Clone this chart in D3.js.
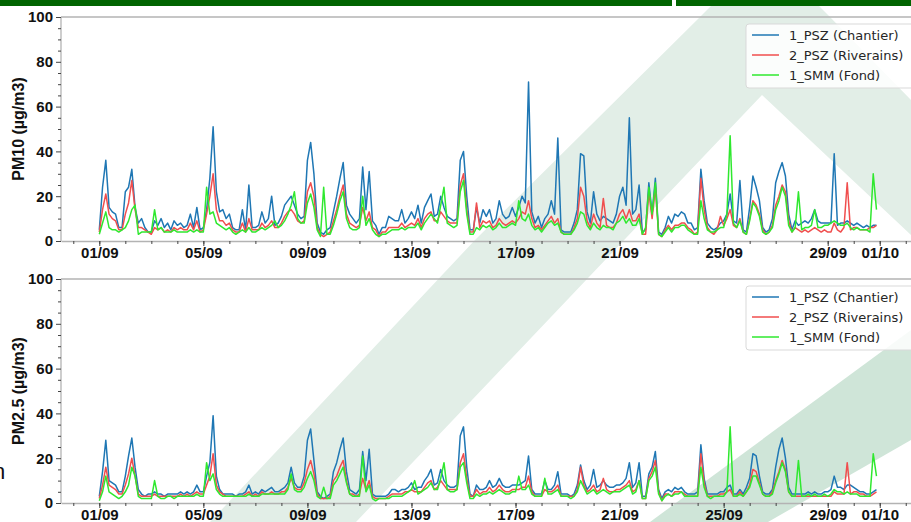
<!DOCTYPE html>
<html><head><meta charset="utf-8">
<script src="https://cdn.jsdelivr.net/npm/d3@7"></script>
<style>body{margin:0;background:#fff}svg{display:block}</style>
</head><body>
<script>
// ---- DATA (3-hourly values, 01/09 00:00 -> 30/09 21:00) ----
const stepHours = 3;
const seriesNames = ["1_PSZ (Chantier)", "2_PSZ (Riverains)", "1_SMM (Fond)"];
const seriesColors = ["#1f77b4", "#f04e4e", "#2fe82f"];
const xTickLabels = ["01/09","05/09","09/09","13/09","17/09","21/09","25/09","29/09","01/10"];
const yTicks = [0,20,40,60,80,100];

const pm10Chantier = [
5,24,36,15,13,12,6,6, 22,24,32,15,8,10,6,4, 4,9,7,10,6,8,5,9, 7,8,6,7,12,6,15,5,
6,14,28,51,22,13,14,10, 12,6,5,5,14,5,25,6, 6,7,13,8,10,20,7,8, 11,16,18,20,16,12,10,11,
36,44,30,8,4,3,5,6, 13,20,28,35,16,12,10,8, 10,33,14,31,9,7,3,6, 6,11,10,9,9,14,8,10,
13,10,16,8,15,18,21,11, 12,20,15,11,10,9,10,36, 40,20,5,5,15,8,14,11, 14,8,10,18,12,10,11,15,
11,15,20,17,71,13,8,11, 6,10,12,18,12,46,5,4, 4,4,8,14,39,38,13,8, 22,12,9,11,10,9,8,12,
20,24,16,55,12,14,25,4, 5,26,12,28,4,3,6,11, 8,12,11,13,12,8,8,5, 6,32,18,8,6,5,6,8,
9,12,21,9,8,27,5,4, 15,29,24,18,6,4,5,10, 26,31,35,29,12,5,9,7, 8,9,8,10,14,9,8,8,
8,8,39,7,8,8,9,8, 7,8,7,6,7,6,7,7];
const pm10Riverains = [
4,14,21,12,10,9,5,5, 12,17,27,14,6,6,5,4, 3,6,5,6,4,5,4,6, 5,6,5,5,8,5,9,4,
5,12,20,30,14,9,9,7, 8,5,4,4,8,4,10,5, 5,5,8,6,7,9,6,6, 8,11,13,14,12,9,8,9,
22,26,20,6,3,2,3,4, 9,14,20,25,12,8,7,6, 7,15,9,13,6,5,2,4, 4,6,6,6,6,8,6,7,
8,7,10,6,10,12,13,9, 9,13,11,9,8,8,8,25, 30,14,4,4,17,6,9,8, 9,6,7,10,8,7,8,9,
8,10,13,12,18,10,6,7, 5,7,9,11,8,10,4,3, 3,3,6,10,24,20,9,6, 12,8,6,19,7,6,6,8,
12,14,10,14,9,9,12,3, 3,22,10,24,3,2,5,7, 5,7,7,8,8,6,5,3, 4,28,14,6,4,3,5,11,
7,10,14,7,6,10,4,3, 10,18,16,12,5,3,4,7, 16,20,25,22,9,4,6,5, 4,5,4,5,6,5,4,5,
4,4,8,5,4,6,26,5, 6,6,5,5,5,6,6,7];
const pm10Fond = [
3,8,13,6,5,5,4,5, 6,9,14,16,3,4,4,4, 4,14,5,6,4,4,4,5, 4,4,4,4,5,4,5,4,
4,24,12,13,8,7,6,5, 6,4,3,4,5,4,6,4, 4,5,6,5,6,7,9,6, 7,9,12,16,22,10,8,8,
17,21,15,5,2,24,3,3, 7,12,18,22,10,6,5,5, 6,20,7,10,5,3,2,3, 3,4,5,5,5,6,5,6,
6,6,8,5,8,10,12,10, 8,16,24,8,7,6,7,22, 27,12,3,3,6,5,7,6, 7,5,6,8,6,6,7,8,
7,18,10,9,12,7,5,6, 4,6,8,9,7,8,4,3, 3,3,5,8,13,12,7,5, 8,6,5,7,6,6,5,8,
9,11,8,10,7,7,10,3, 6,24,12,26,3,2,4,6, 4,6,6,7,7,5,4,3, 3,18,10,5,4,4,5,6,
6,12,47,8,6,9,4,3, 9,17,15,11,4,3,4,6, 14,18,24,20,7,4,6,22, 5,6,6,7,14,6,6,7,
7,8,9,8,7,7,8,6, 5,6,5,5,5,4,30,14];

const pm25Chantier = [
3,14,28,10,9,8,5,5, 12,21,29,16,6,4,3,4, 4,5,4,4,3,4,4,4, 4,5,4,5,4,5,8,5,
5,12,18,39,12,6,4,4, 4,4,3,4,4,5,8,4, 5,4,6,5,6,7,5,5, 6,7,9,16,9,7,7,12,
28,33,19,5,3,2,3,4, 14,18,24,29,14,6,5,4, 6,23,10,24,4,3,3,3, 3,4,6,6,5,6,6,7,
9,6,7,7,10,12,15,8, 9,15,10,8,7,7,8,30, 34,16,4,3,8,6,6,7, 10,7,8,11,8,7,7,8,
8,8,9,10,21,6,4,4, 4,10,6,6,8,14,4,4, 4,3,4,8,17,10,6,8, 15,7,8,10,8,7,7,8,
8,9,11,18,7,9,18,3, 3,13,16,23,6,2,5,6, 5,7,6,7,5,4,4,4, 5,26,11,4,4,4,4,5,
5,7,8,4,4,6,4,7, 11,22,21,12,5,4,4,6, 16,24,29,20,7,4,4,4, 4,4,5,4,5,4,4,5,
5,6,12,7,7,6,8,8, 7,6,5,5,4,4,5,6];
const pm25Riverains = [
2,8,16,8,7,6,4,4, 8,13,20,12,4,3,3,3, 3,4,3,3,3,3,3,3, 3,4,3,4,3,4,5,4,
4,8,12,22,8,5,4,3, 3,3,3,3,3,4,5,3, 4,3,5,4,4,5,4,4, 5,5,7,11,7,6,6,9,
15,19,13,4,2,2,2,3, 10,12,16,19,10,4,4,3, 4,11,6,10,3,2,2,2, 2,3,4,4,4,4,5,5,
6,5,5,5,7,9,10,6, 7,10,8,6,6,6,6,18, 22,11,3,3,6,4,5,5, 7,5,6,8,6,5,5,6,
6,6,7,7,12,5,3,3, 3,6,5,5,6,8,3,3, 3,3,3,6,16,8,5,6, 8,5,6,11,6,5,5,6,
6,7,8,10,5,6,10,2, 2,11,14,19,5,1,4,4, 3,5,5,5,4,3,3,3, 3,22,9,3,3,3,3,4,
4,5,6,3,3,5,3,5, 8,15,14,9,4,3,3,5, 10,14,19,15,5,3,3,3, 3,3,3,3,3,3,3,3,
3,3,5,4,4,4,18,4, 5,5,4,4,3,3,4,5];
const pm25Fond = [
1,5,12,5,4,3,2,3, 5,8,16,12,3,2,2,2, 2,10,3,2,2,3,3,2, 3,3,3,3,3,3,4,3,
3,18,10,13,6,4,3,3, 3,3,3,3,3,3,4,3, 3,3,4,4,4,4,4,4, 4,4,6,13,6,5,5,7,
11,14,10,3,2,7,2,2, 8,10,13,16,9,4,3,3, 3,21,5,8,2,1,2,2, 2,2,3,3,3,3,4,5,
6,10,4,5,6,7,9,6, 6,11,18,6,5,5,6,16, 18,9,2,2,4,3,4,4, 5,4,5,6,5,4,4,5,
5,12,6,6,8,4,3,3, 3,11,4,4,5,6,3,3, 3,2,3,5,10,7,4,5, 6,4,5,6,5,4,5,5,
5,6,7,8,4,5,10,2, 2,10,12,16,4,1,3,4, 3,4,4,5,3,3,3,3, 3,16,7,3,2,3,3,3,
3,5,34,3,3,4,3,5, 7,12,12,8,4,3,3,4, 9,13,18,14,5,3,3,19, 3,3,4,3,4,3,3,4,
3,4,6,5,5,4,5,4, 4,4,3,3,3,3,22,12];

// ---- LAYOUT ----
const W = 911, H = 522;
const svg = d3.select("body").append("svg").attr("width", W).attr("height", H);
svg.append("rect").attr("width", W).attr("height", H).attr("fill", "#fff");

// watermark (decorative logo in background)
const wmA = [[210,522],[475,240],[700,17],[742,-25],[788,-25],[830,17],[911,100],[911,235],[762,95],[356,522]];
const wmB = [[650,522],[768,522],[911,440],[911,330]];
svg.append("polygon").attr("points", wmA.map(p=>p.join(",")).join(" ")).attr("fill", "#e2eee7");
svg.append("polygon").attr("points", wmB.map(p=>p.join(",")).join(" ")).attr("fill", "#cfe5d8");

// top header bar
svg.append("rect").attr("x",0).attr("y",0).attr("width",W).attr("height",6).attr("fill","#006400");
svg.append("rect").attr("x",672).attr("y",0).attr("width",4).attr("height",6).attr("fill","#fff");

// partially visible text fragment at left edge
svg.append("text").attr("x",-7).attr("y",479).attr("font-family","Liberation Sans, Arial, sans-serif")
  .attr("font-size",22).attr("fill","#111").text("n");

const t0 = Date.UTC(2021, 8, 1);
const times = d3.range(pm10Chantier.length).map(i => new Date(t0 + i * stepHours * 3600e3));
const xRef = d3.scaleUtc().domain([new Date(t0), new Date(Date.UTC(2021, 8, 29))]).range([99.3, 827.7]);
const x = d3.scaleUtc().domain([xRef.invert(61), xRef.invert(920)]).range([61, 920]);
const parseTick = d3.utcParse("%d/%m/%Y");
const majorDates = xTickLabels.map(s => parseTick(s + "/2021"));
const minorDates = d3.utcDay.range(x.domain()[0], x.domain()[1]);
const fmt = d3.utcFormat("%d/%m");

const panels = [
  {top:17, bottom:241, label:"PM10 (µg/m3)", data:[pm10Chantier, pm10Riverains, pm10Fond], legendY:24},
  {top:279, bottom:503, label:"PM2.5 (µg/m3)", data:[pm25Chantier, pm25Riverains, pm25Fond], legendY:286}
];
const boldFont = "Liberation Sans, Arial, Helvetica, sans-serif";

panels.forEach((p, pi) => {
  const y = d3.scaleLinear().domain([0, 100]).range([p.bottom, p.top]);
  const g = svg.append("g");
  const clipId = "clip" + pi;
  svg.append("clipPath").attr("id", clipId).append("rect")
    .attr("x", 61).attr("y", p.top - 2).attr("width", W - 61).attr("height", p.bottom - p.top + 2);

  // spines
  g.append("line").attr("x1",61).attr("x2",W).attr("y1",p.top).attr("y2",p.top)
    .attr("stroke","#b3b3b3").attr("stroke-width",1.3);
  g.append("line").attr("x1",61).attr("x2",61).attr("y1",p.top).attr("y2",p.bottom)
    .attr("stroke","#b3b3b3").attr("stroke-width",1.3);

  // lines
  const line = d3.line().x((d, i) => x(times[i])).y(d => y(d));
  const lg = g.append("g").attr("clip-path", `url(#${clipId})`);
  p.data.forEach((arr, si) => {
    lg.append("path").datum(arr).attr("d", line).attr("fill", "none")
      .attr("stroke", seriesColors[si]).attr("stroke-width", 1.5).attr("stroke-linejoin", "round");
  });

  // x axis
  const xa = g.append("g").attr("transform", `translate(0,${p.bottom})`)
    .call(d3.axisBottom(x).tickValues(majorDates).tickFormat(fmt).tickSize(5).tickPadding(1).tickSizeOuter(0));
  xa.select(".domain").attr("stroke", "#b3b3b3").attr("stroke-width", 1.3);
  xa.selectAll(".tick line").attr("stroke", "#444");
  xa.selectAll(".tick text").attr("font-family", boldFont).attr("font-weight", "bold")
    .attr("font-size", 15).attr("fill", "#111");
  const xm = g.append("g").attr("transform", `translate(0,${p.bottom})`)
    .call(d3.axisBottom(x).tickValues(minorDates).tickFormat("").tickSize(3).tickSizeOuter(0));
  xm.select(".domain").remove();
  xm.selectAll(".tick line").attr("stroke", "#444");

  // y axis
  const ya = g.append("g").attr("transform", "translate(61,0)")
    .call(d3.axisLeft(y).tickValues(yTicks).tickSize(5).tickPadding(3).tickSizeOuter(0));
  ya.select(".domain").remove();
  ya.selectAll(".tick line").attr("stroke", "#444");
  ya.selectAll(".tick text").attr("font-family", boldFont).attr("font-weight", "bold")
    .attr("font-size", 15).attr("fill", "#111");
  const ym = g.append("g").attr("transform", "translate(61,0)")
    .call(d3.axisLeft(y).tickValues(d3.range(0, 101, 5).filter(v => v % 20 !== 0)).tickFormat("").tickSize(3));
  ym.select(".domain").remove();
  ym.selectAll(".tick line").attr("stroke", "#444");

  // y label
  g.append("text").attr("transform", `translate(24,${(p.top + p.bottom) / 2}) rotate(-90)`)
    .attr("text-anchor", "middle").attr("font-family", boldFont).attr("font-weight", "bold")
    .attr("font-size", 16).attr("fill", "#111").text(p.label);

  // legend
  const leg = g.append("g");
  leg.append("rect").attr("x", 746).attr("y", p.legendY).attr("width", 180).attr("height", 64).attr("rx", 3)
    .attr("fill", "#fff").attr("fill-opacity", 0.85).attr("stroke", "#d9d9d9");
  seriesNames.forEach((name, si) => {
    const ly = p.legendY + 11 + si * 20;
    leg.append("line").attr("x1", 752).attr("x2", 779).attr("y1", ly).attr("y2", ly)
      .attr("stroke", seriesColors[si]).attr("stroke-width", 1.5);
    leg.append("text").attr("x", 789).attr("y", ly + 4.5).attr("font-family", "DejaVu Sans, sans-serif")
      .attr("font-size", 13).attr("fill", "#262626").text(name);
  });
});
</script>
</body></html>
